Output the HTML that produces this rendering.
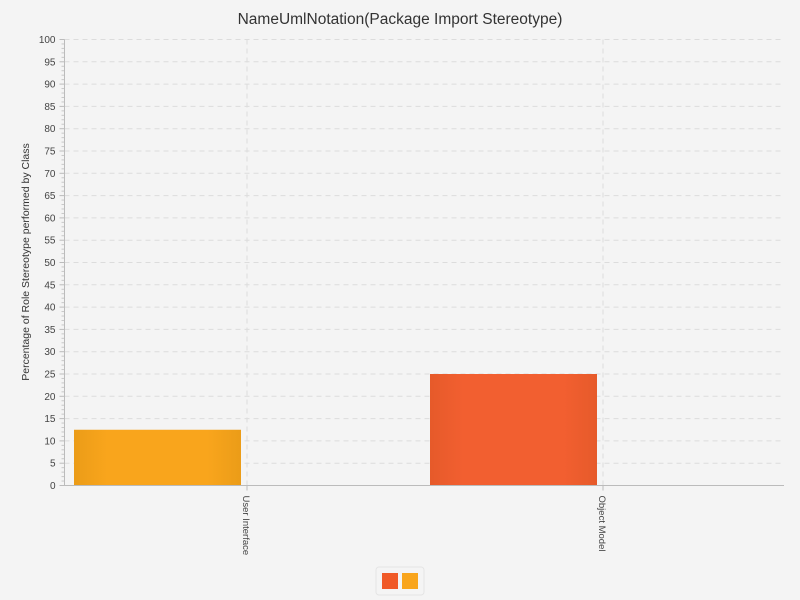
<!DOCTYPE html>
<html><head><meta charset="utf-8"><style>
body{margin:0;background:#f4f4f4;font-family:"Liberation Sans",sans-serif}
svg{display:block}
</style></head><body>
<svg id="c" width="800" height="600">
<rect width="800" height="600" fill="#f4f4f4"/>
<defs>
<linearGradient id="gy" x1="0" x2="1"><stop offset="0" stop-color="#eb9c18"/><stop offset="0.2" stop-color="#f9a51c"/><stop offset="0.8" stop-color="#f9a51c"/><stop offset="1" stop-color="#eb9c18"/></linearGradient>
<linearGradient id="gr" x1="0" x2="1"><stop offset="0" stop-color="#e65a2a"/><stop offset="0.2" stop-color="#f25f30"/><stop offset="0.8" stop-color="#f25f30"/><stop offset="1" stop-color="#e65a2a"/></linearGradient>
</defs>
<text x="400" y="24" text-anchor="middle" font-size="15.5" fill="#333">NameUmlNotation(Package Import Stereotype)</text>
<text transform="translate(29,262) rotate(-90)" text-anchor="middle" font-size="10.5" fill="#333">Percentage of Role Stereotype performed by Class</text>
<g id="grid"></g><g id="bars"></g><g id="axes"></g>
<g>
<rect x="376" y="567" width="48" height="28" rx="3" fill="#f4f4f4" stroke="#e4e4e4"/>
<rect x="382" y="573" width="16" height="16" fill="#f05a28"/>
<rect x="402" y="573" width="16" height="16" fill="#f9a51c"/>
</g>
</svg>
<script>
const categories=["User Interface","Object Model"];
const values=[12.5,25];
const fills=["url(#gy)","url(#gr)"];
const yTicks=[0,5,10,15,20,25,30,35,40,45,50,55,60,65,70,75,80,85,90,95,100];
const NS="http://www.w3.org/2000/svg";
const X0=64.5,X1=784,Y0=485.5,Y1=39.5,BAND0=69;
const y=v=>Y0-(v/100)*(Y0-Y1);
const bw=356;
const cx=i=>BAND0+bw*(i+0.5);
function mk(t,a,p){const e=document.createElementNS(NS,t);for(const k in a)e.setAttribute(k,a[k]);p.appendChild(e);return e;}
const grid=document.getElementById('grid'),axes=document.getElementById('axes'),bars=document.getElementById('bars');
yTicks.forEach(v=>{
 if(v>0){const l=mk('line',{x1:X0,x2:X1,y1:y(v),y2:y(v),stroke:'#dcdcdc','stroke-dasharray':'5,4'},grid);
 
 }
 const t=mk('line',{x1:X0-5,x2:X0,y1:y(v),y2:y(v),stroke:'#bbb'},axes);
 
 
 const tx=mk('text',{x:X0-9,y:y(v)+3.5,'text-anchor':'end','font-size':'10',fill:'#444'},axes);
 tx.textContent=v;
 
 
});
for(let v=1;v<100;v++){if(v%5)mk('line',{x1:X0-3,x2:X0,y1:y(v),y2:y(v),stroke:'#c8c8c8'},axes);}
categories.forEach((c,i)=>{
 const g=mk('line',{x1:cx(i),x2:cx(i),y1:Y1,y2:Y0,stroke:'#dcdcdc','stroke-dasharray':'5,4'},grid);
 
 
 const b=mk('rect',{x:cx(i)-173,width:167,y:y(values[i]),height:Y0-y(values[i]),fill:fills[i]},bars);
 
 
 mk('line',{x1:cx(i),x2:cx(i),y1:Y0,y2:Y0+5,stroke:'#bbb'},axes);
 const t=mk('text',{transform:`translate(${cx(i)-4},${Y0+10}) rotate(90)`,'font-size':'9.5',fill:'#444'},axes);
 t.textContent=c;
 
 
});
const ya=mk('line',{x1:X0,x2:X0,y1:Y1,y2:Y0,stroke:'#bbb'},axes);


const xa=mk('line',{x1:X0,x2:X1,y1:Y0,y2:Y0,stroke:'#bbb'},axes);


</script>
</body></html>
